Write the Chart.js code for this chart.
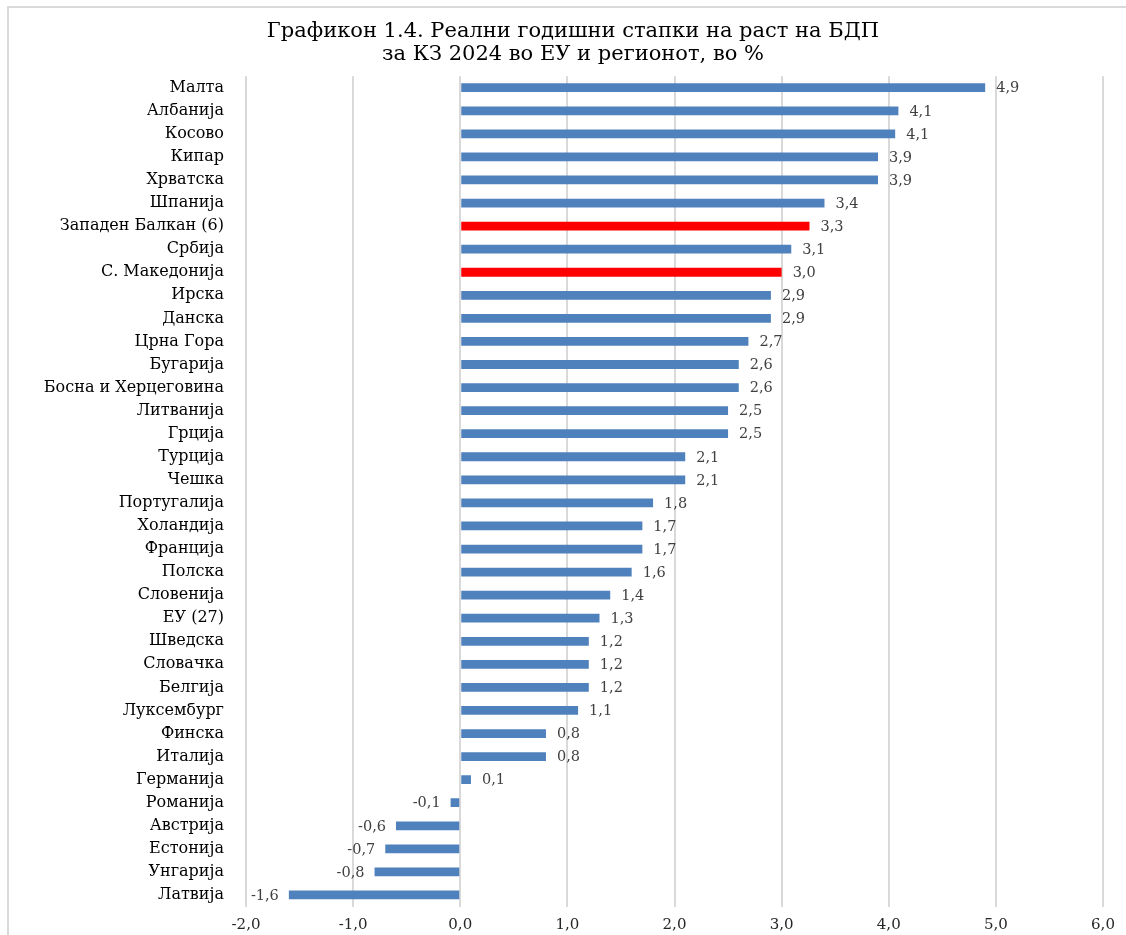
<!DOCTYPE html>
<html lang="mk">
<head>
  <meta charset="UTF-8" />
  <title>Графикон 1.4</title>
  <script src="https://cdn.jsdelivr.net/npm/chart.js"></script>
  <style>
    html, body { margin: 0; padding: 0; background: #fff; overflow: hidden; }
    #frame { position: absolute; left: 7px; top: 6px; width: 1140px; height: 960px; border: 2px solid #d9d9d9; }
    #wrap { position: absolute; left: 0; top: 0; width: 1126px; height: 935px; }
  </style>
</head>
<body>
  <div id="frame"></div>
  <div id="wrap"><canvas id="myChart"></canvas></div>

  <script>
    // земји / региони, од врвот надолу
    const countries = [
      'Малта', 'Албанија', 'Косово', 'Кипар', 'Хрватска', 'Шпанија',
      'Западен Балкан (6)', 'Србија', 'С. Македонија', 'Ирска', 'Данска',
      'Црна Гора', 'Бугарија', 'Босна и Херцеговина', 'Литванија', 'Грција',
      'Турција', 'Чешка', 'Португалија', 'Холандија', 'Франција', 'Полска',
      'Словенија', 'ЕУ (27)', 'Шведска', 'Словачка', 'Белгија', 'Луксембург',
      'Финска', 'Италија', 'Германија', 'Романија', 'Австрија', 'Естонија',
      'Унгарија', 'Латвија'
    ];
    // реален раст на БДП, %, КЗ 2024
    const growth = [
      4.9, 4.09, 4.06, 3.9, 3.9, 3.4,
      3.26, 3.09, 3.0, 2.9, 2.9,
      2.69, 2.6, 2.6, 2.5, 2.5,
      2.1, 2.1, 1.8, 1.7, 1.7, 1.6,
      1.4, 1.3, 1.2, 1.2, 1.2, 1.1,
      0.8, 0.8, 0.1, -0.09, -0.6, -0.7,
      -0.8, -1.6
    ];
    // означени (црвени) столбови
    const highlighted = ['Западен Балкан (6)', 'С. Македонија'];
    const xMin = -2, xMax = 6, xStep = 1;

    const fmt = v => v.toFixed(1).replace('.', ',');
    const SERIF = '"DejaVu Serif", "Liberation Serif", serif';

    // натписи со вредности до крајот на секој столб
    const valueLabels = {
      id: 'valueLabels',
      afterDatasetsDraw(chart) {
        const ctx = chart.ctx;
        const meta = chart.getDatasetMeta(0);
        ctx.save();
        ctx.font = '14.5px ' + SERIF;
        ctx.fillStyle = '#404040';
        ctx.textBaseline = 'middle';
        meta.data.forEach((bar, i) => {
          const v = growth[i];
          if (v >= 0) {
            ctx.textAlign = 'left';
            ctx.fillText(fmt(v), bar.x + 11, bar.y + 1);
          } else {
            ctx.textAlign = 'right';
            ctx.fillText(fmt(v), bar.x - 10, bar.y + 1);
          }
        });
        ctx.restore();
      }
    };

    new Chart(document.getElementById('myChart'), {
      type: 'bar',
      data: {
        labels: countries,
        datasets: [{
          data: growth,
          backgroundColor: countries.map(c => highlighted.includes(c) ? '#FF0000' : '#4F81BD'),
          borderWidth: 0,
          categoryPercentage: 1,
          barPercentage: 0.38
        }]
      },
      options: {
        indexAxis: 'y',
        responsive: true,
        maintainAspectRatio: false,
        animation: false,
        layout: { padding: { left: 43, right: 23, top: 20, bottom: 0 } },
        scales: {
          x: {
            min: xMin,
            max: xMax,
            afterFit: s => { s.height = 28.5; },
            ticks: {
              stepSize: xStep,
              padding: 10,
              color: '#262626',
              font: { family: SERIF, size: 15 },
              callback: v => fmt(v)
            },
            grid: { color: '#d9d9d9', lineWidth: 2, drawTicks: false },
            border: { display: false }
          },
          y: {
            // фиксна ширина; без дополнителен простор горе/долу
            afterFit: s => { s.width = 203; s.paddingTop = 0; s.paddingBottom = 0; },
            ticks: {
              padding: 22,
              color: '#000',
              autoSkip: false,
              font: { family: SERIF, size: 16 }
            },
            grid: { display: false, drawTicks: false },
            border: { display: false }
          }
        },
        plugins: {
          legend: { display: false },
          tooltip: { enabled: false },
          title: {
            display: true,
            text: ['Графикон 1.4. Реални годишни стапки на раст на БДП', 'за КЗ 2024 во ЕУ и регионот, во %'],
            color: '#000',
            font: { family: SERIF, size: 21, weight: 'normal', lineHeight: 1.1 },
            padding: { top: 0, bottom: 10 }
          }
        }
      },
      plugins: [valueLabels]
    });
  </script>
</body>
</html>
